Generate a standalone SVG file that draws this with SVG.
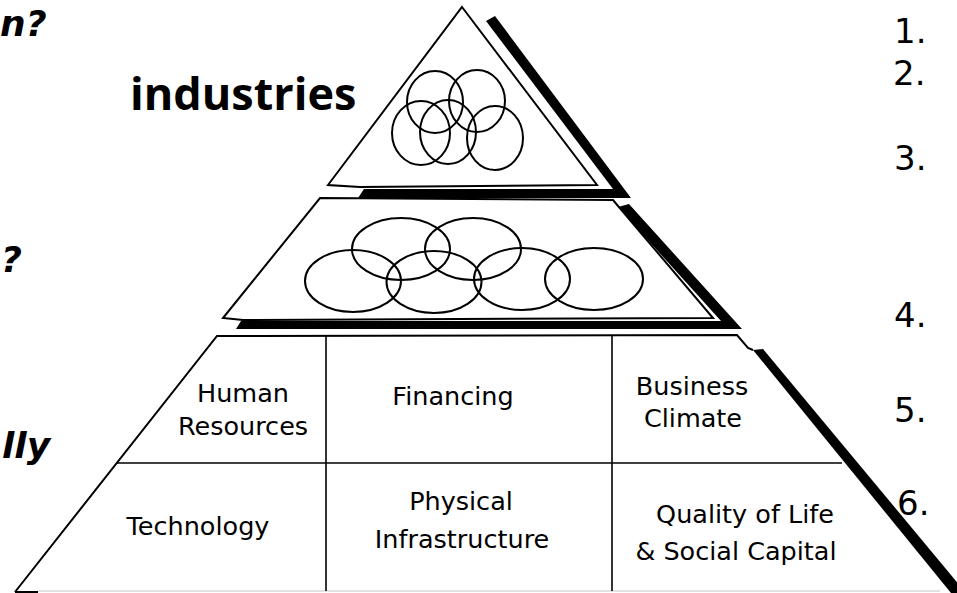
<svg xmlns="http://www.w3.org/2000/svg" width="957" height="593" viewBox="0 0 957 593">
<style>
.out{fill:#fff;stroke:#000;stroke-width:2;stroke-linejoin:miter}
.sh{fill:#000;stroke:none}
.ring{fill:none;stroke:#000;stroke-width:2}
.div{stroke:#000;stroke-width:1.6;fill:none}
.cell{font-family:"DejaVu Sans",Verdana,sans-serif;font-size:25.5px;fill:#000;text-anchor:middle}
.num{font-family:"DejaVu Sans",Verdana,sans-serif;font-size:34px;fill:#000}
.bi{font-family:"DejaVu Sans",Verdana,sans-serif;font-size:36px;font-weight:bold;font-style:italic;fill:#000}
.title{font-family:"Open Sans","DejaVu Sans",sans-serif;font-size:45px;font-weight:bold;fill:#000}
</style>
<rect width="957" height="593" fill="#fff"/>

<g id="side-texts">
<text class="bi" x="0" y="36">n?</text>
<text class="bi" x="1" y="272">?</text>
<text class="bi" x="2" y="458">lly</text>
<text class="title" x="130" y="110">industries</text>
</g>

<g id="numbers">
<text class="num" x="894" y="43">1.</text>
<text class="num" x="893" y="85">2.</text>
<text class="num" x="894" y="170">3.</text>
<text class="num" x="894" y="327">4.</text>
<text class="num" x="894" y="422">5.</text>
<text class="num" x="897" y="515">6.</text>
</g>

<g id="level-top">
<polygon class="sh" points="486,21 495,16 631,198 358,198 364,189 613,189"/>
<polygon class="out" points="462,7 597,185 360,187 328,185"/>
<ellipse class="ring" cx="435" cy="102" rx="28" ry="31"/>
<ellipse class="ring" cx="477" cy="101" rx="28" ry="31"/>
<ellipse class="ring" cx="421" cy="133" rx="29" ry="32"/>
<ellipse class="ring" cx="448" cy="132" rx="28" ry="32"/>
<ellipse class="ring" cx="495" cy="138" rx="28" ry="32"/>
</g>

<g id="level-middle">
<polygon class="sh" points="618,207 629,204 742,329 236,329 241,321 721,321"/>
<polygon class="out" points="320,198 613,200 713,318 243,320 223,318"/>
<ellipse class="ring" cx="401" cy="249" rx="49" ry="31"/>
<ellipse class="ring" cx="473" cy="249" rx="48" ry="31"/>
<ellipse class="ring" cx="353" cy="281" rx="48" ry="31"/>
<ellipse class="ring" cx="434" cy="282" rx="47.5" ry="31" stroke-width="1.6"/>
<ellipse class="ring" cx="522" cy="279" rx="48" ry="31"/>
<ellipse class="ring" cx="594" cy="279" rx="49" ry="31"/>
</g>

<g id="level-bottom">
<polygon fill="#fff" stroke="none" points="217,336 737,335 748,348 951,593 15,593"/>
<polyline class="out" fill="none" points="15,592 217,336 737,335 748,348 753,350"/>
<line x1="15" y1="592" x2="38" y2="592" stroke="#000" stroke-width="2"/>
<line x1="38" y1="591" x2="940" y2="591" stroke="#d8d8d8" stroke-width="1.5"/>
<polygon class="sh" points="753,350 763,349 966,593 951,593"/>
<line class="div" x1="117" y1="463" x2="842" y2="463"/>
<line class="div" x1="326" y1="336" x2="326" y2="591"/>
<line class="div" x1="612" y1="336" x2="612" y2="591"/>
</g>

<g id="cell-human-resources">
<text class="cell" x="243" y="402">Human</text>
<text class="cell" x="243" y="435">Resources</text>
</g>
<g id="cell-financing">
<text class="cell" x="453" y="405">Financing</text>
</g>
<g id="cell-business-climate">
<text class="cell" x="692" y="395">Business</text>
<text class="cell" x="693" y="427">Climate</text>
</g>
<g id="cell-technology">
<text class="cell" x="198" y="535">Technology</text>
</g>
<g id="cell-physical-infrastructure">
<text class="cell" x="461" y="510">Physical</text>
<text class="cell" x="462" y="548">Infrastructure</text>
</g>
<g id="cell-quality-of-life">
<text class="cell" x="745" y="523">Quality of Life</text>
<text class="cell" x="736" y="560">&amp; Social Capital</text>
</g>

<g id="connectors"></g>
</svg>
